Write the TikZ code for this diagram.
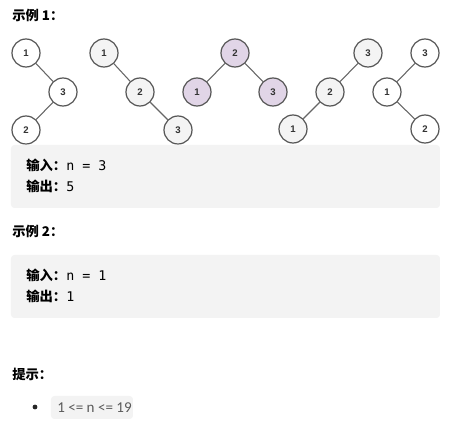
\documentclass[tikz,border=0pt]{standalone}
\usepackage{fontspec}
\setmainfont{Noto Sans CJK SC}
\newfontfamily\codefont{DejaVu Sans Mono}
\newfontfamily\numfont{Liberation Sans}
\newfontfamily\hintfont{Carlito}
\definecolor{boxgray}{HTML}{F3F3F3}
\definecolor{ringgray}{HTML}{555555}
\definecolor{lightfill}{HTML}{F4F4F4}
\definecolor{purplefill}{HTML}{E1D5E7}
\definecolor{hintgray}{HTML}{5A5A5A}
\begin{document}
\begin{tikzpicture}[x=0.75pt, y=-0.75pt,
    treeW/.style={circle, draw=ringgray, line width=0.9pt, fill=white, minimum size=21pt, inner sep=0pt, font=\numfont\bfseries\fontsize{7.2}{8}\selectfont, text=black!80},
    treeG/.style={treeW, fill=lightfill},
    treeP/.style={treeW, fill=purplefill},
    link/.style={draw=black!60, line width=0.8pt},
    panel/.style={fill=boxgray, rounded corners=2.5pt},
    heading/.style={anchor=base west, inner sep=0pt, font=\bfseries\fontsize{10}{12}\selectfont},
    line/.style={anchor=base west, inner sep=0pt, font=\fontsize{10}{12}\selectfont}]

    \useasboundingbox (0,0) rectangle (462,428);

    % Example 1
    \node[heading] (h1) at (12, 21) {示例 1：};

    % Tree 1
    \node[treeW] (a1) at (26, 53) {1};
    \node[treeW] (a3) at (63, 92) {3};
    \node[treeW] (a2) at (26, 130) {2};
    \draw[link] (a1) -- (a3);
    \draw[link] (a3) -- (a2);

    % Tree 2
    \node[treeG] (b1) at (104, 53) {1};
    \node[treeG] (b2) at (140, 92) {2};
    \node[treeG] (b3) at (178, 130) {3};
    \draw[link] (b1) -- (b2);
    \draw[link] (b2) -- (b3);

    % Tree 3
    \node[treeP] (c2) at (235, 53) {2};
    \node[treeP] (c1) at (197, 92) {1};
    \node[treeP] (c3) at (273, 92) {3};
    \draw[link] (c2) -- (c1);
    \draw[link] (c2) -- (c3);

    % Tree 4
    \node[treeG] (d3) at (368, 53) {3};
    \node[treeG] (d2) at (330, 92) {2};
    \node[treeG] (d1) at (293, 129) {1};
    \draw[link] (d3) -- (d2);
    \draw[link] (d2) -- (d1);

    % Tree 5
    \node[treeW] (e3) at (425, 53) {3};
    \node[treeW] (e1) at (387, 92) {1};
    \node[treeW] (e2) at (425, 129) {2};
    \draw[link] (e3) -- (e1);
    \draw[link] (e1) -- (e2);

    % Example 1 box
    \fill[panel] (11, 145) rectangle (440, 208);
    \node[line] (in1) at (26, 171) {\textbf{输入：}{\codefont n = 3}};
    \node[line] (out1) at (26, 192) {\textbf{输出：}{\codefont 5}};

    % Example 2
    \node[heading] (h2) at (12, 237) {示例 2：};
    \fill[panel] (11, 255) rectangle (440, 318);
    \node[line] (in2) at (26, 281) {\textbf{输入：}{\codefont n = 1}};
    \node[line] (out2) at (26, 302) {\textbf{输出：}{\codefont 1}};

    % Hint
    \node[heading] (h3) at (12, 380) {提示：};
    \fill[black!85] (35, 407) circle (2.4);
    \fill[panel] (51, 396) rectangle (133, 419);
    \node[anchor=base west, inner sep=0pt, font=\hintfont\fontsize{11.3}{13}\selectfont, text=hintgray] (hint) at (57, 413) {1 <= n <= 19};

\end{tikzpicture}
\end{document}
